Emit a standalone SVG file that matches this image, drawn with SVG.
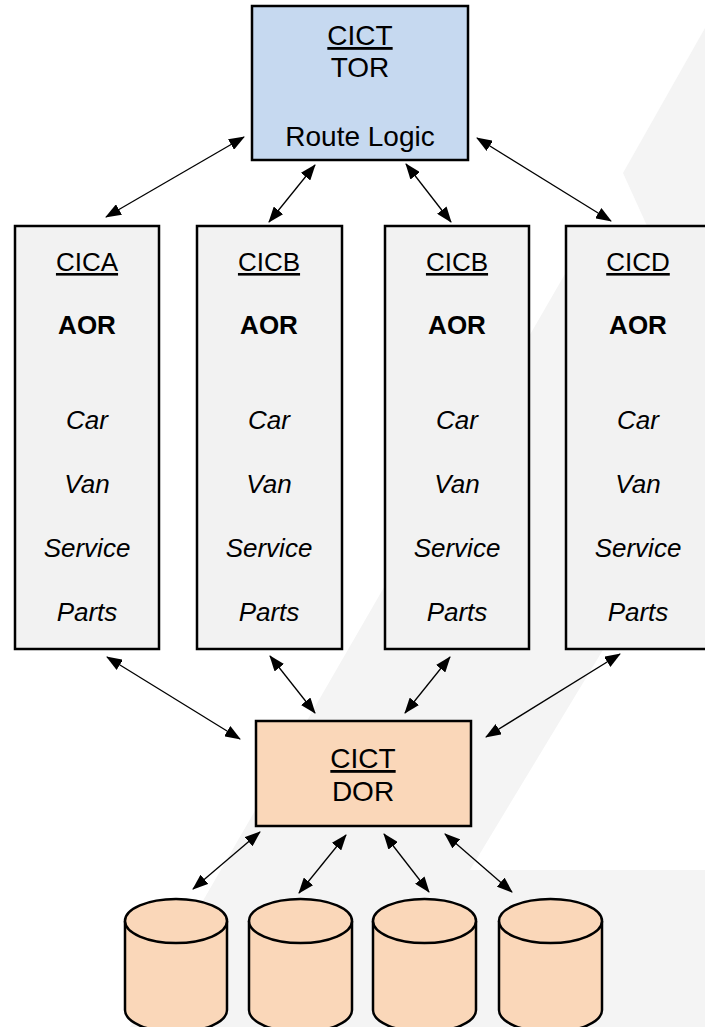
<svg xmlns="http://www.w3.org/2000/svg" width="705" height="1027" viewBox="0 0 705 1027">
<style>
.t{font-family:"Liberation Sans",Arial,sans-serif;fill:#000;text-anchor:middle}
.big{font-size:28px}
.col{font-size:26px}
.b{font-weight:bold}
.i{font-style:italic}
.u{text-decoration:underline}
.box{stroke:#000;stroke-width:2.5}
.cyl{fill:#fad7b9;stroke:#000;stroke-width:2.5}
.conn line{stroke:#000;stroke-width:1.3;marker-start:url(#ah);marker-end:url(#ah)}
</style>
<defs>
<marker id="ah" markerUnits="userSpaceOnUse" markerWidth="16" markerHeight="12" refX="15" refY="6" orient="auto-start-reverse">
<path d="M0,0 L16,6 L0,12 z" fill="#000"/>
</marker>
</defs>
<rect width="705" height="1027" fill="#fff"/>
<g id="watermark" fill="#f4f4f4">
<polygon points="705,28 623,173 648,228 705,228"/>
<polygon points="565,274 130,1027 705,1027 705,870 470,870 705,481 705,226 565,226"/>
</g>
<g id="tor">
<rect class="box" x="252" y="6" width="216" height="154" fill="#c6d9f0"/>
<text class="t big u" x="360" y="45">CICT</text>
<text class="t big" x="360" y="77">TOR</text>
<text class="t big" x="360" y="146">Route Logic</text>
</g>
<g id="cica">
<rect class="box" x="15" y="226" width="144" height="423" fill="#f2f2f2"/>
<text class="t col u" x="87" y="271">CICA</text>
<text class="t col b" x="87" y="334">AOR</text>
<text class="t col i" x="87" y="429">Car</text>
<text class="t col i" x="87" y="493">Van</text>
<text class="t col i" x="87" y="557">Service</text>
<text class="t col i" x="87" y="621">Parts</text>
</g>
<g id="cicb1">
<rect class="box" x="197" y="226" width="145" height="423" fill="#f2f2f2"/>
<text class="t col u" x="269" y="271">CICB</text>
<text class="t col b" x="269" y="334">AOR</text>
<text class="t col i" x="269" y="429">Car</text>
<text class="t col i" x="269" y="493">Van</text>
<text class="t col i" x="269" y="557">Service</text>
<text class="t col i" x="269" y="621">Parts</text>
</g>
<g id="cicb2">
<rect class="box" x="385" y="226" width="144" height="423" fill="#f2f2f2"/>
<text class="t col u" x="457" y="271">CICB</text>
<text class="t col b" x="457" y="334">AOR</text>
<text class="t col i" x="457" y="429">Car</text>
<text class="t col i" x="457" y="493">Van</text>
<text class="t col i" x="457" y="557">Service</text>
<text class="t col i" x="457" y="621">Parts</text>
</g>
<g id="cicd">
<rect class="box" x="566" y="226" width="145" height="423" fill="#f2f2f2"/>
<text class="t col u" x="638" y="271">CICD</text>
<text class="t col b" x="638" y="334">AOR</text>
<text class="t col i" x="638" y="429">Car</text>
<text class="t col i" x="638" y="493">Van</text>
<text class="t col i" x="638" y="557">Service</text>
<text class="t col i" x="638" y="621">Parts</text>
</g>
<g id="dor">
<rect class="box" x="256" y="721" width="215" height="105" fill="#fad7b9"/>
<text class="t big u" x="363" y="768">CICT</text>
<text class="t big" x="363" y="801">DOR</text>
</g>
<g id="db1">
<path class="cyl" d="M125,921 V1010 A51,22 0 0 0 227,1010 V921 A51,22 0 0 0 125,921 Z"/>
<path class="cyl" fill="none" d="M125,921 A51,22 0 0 0 227,921"/>
</g>
<g id="db2">
<path class="cyl" d="M249,921 V1010 A51.5,22 0 0 0 352,1010 V921 A51.5,22 0 0 0 249,921 Z"/>
<path class="cyl" fill="none" d="M249,921 A51.5,22 0 0 0 352,921"/>
</g>
<g id="db3">
<path class="cyl" d="M373,921 V1010 A51.5,22 0 0 0 476,1010 V921 A51.5,22 0 0 0 373,921 Z"/>
<path class="cyl" fill="none" d="M373,921 A51.5,22 0 0 0 476,921"/>
</g>
<g id="db4">
<path class="cyl" d="M499,921 V1010 A51.5,22 0 0 0 602,1010 V921 A51.5,22 0 0 0 499,921 Z"/>
<path class="cyl" fill="none" d="M499,921 A51.5,22 0 0 0 602,921"/>
</g>
<g id="connectors" class="conn">
<line x1="244" y1="137" x2="106" y2="217"/>
<line x1="315" y1="165" x2="269" y2="222"/>
<line x1="406" y1="164" x2="451" y2="222"/>
<line x1="477" y1="138" x2="611" y2="221"/>
<line x1="107" y1="657" x2="240" y2="739"/>
<line x1="270" y1="656" x2="315" y2="713"/>
<line x1="450" y1="657" x2="405" y2="713"/>
<line x1="620" y1="654" x2="486" y2="737"/>
<line x1="260" y1="832" x2="193" y2="889"/>
<line x1="346" y1="835" x2="299" y2="893"/>
<line x1="384" y1="834" x2="429" y2="892"/>
<line x1="445" y1="834" x2="512" y2="892"/>
</g>
</svg>
